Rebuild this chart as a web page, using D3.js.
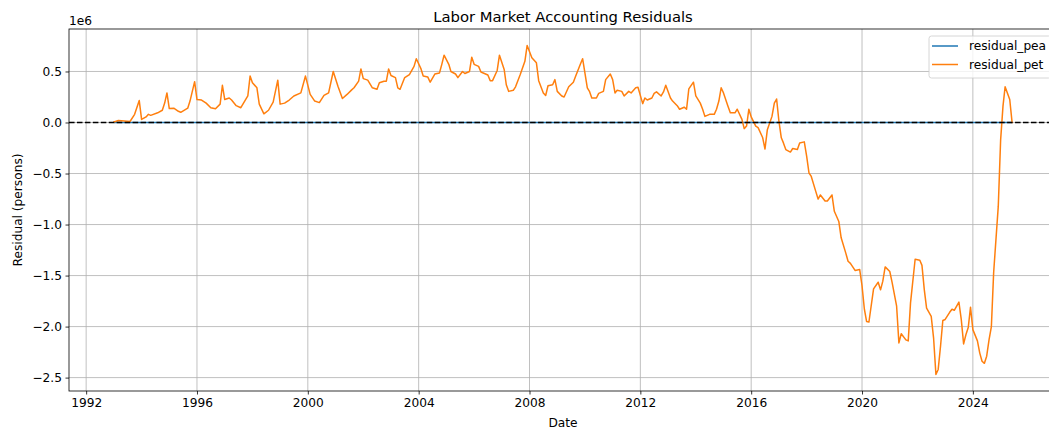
<!DOCTYPE html>
<html>
<head>
<meta charset="utf-8">
<script src="https://cdn.jsdelivr.net/npm/d3@7"></script>
<style>
  html, body { margin: 0; padding: 0; background: #fff; }
  svg { display: block; font-family: "DejaVu Sans", sans-serif; }
</style>
</head>
<body>
<svg id="chart" width="1049" height="430"></svg>
<script>
// ---- data (values in units of 1e6 persons) ----
const petDates = [
"1993-01","1993-03","1993-08","1993-10","1993-12","1994-01","1994-03","1994-04","1994-05","1994-08",
"1994-10","1994-11","1994-12","1995-01","1995-03","1995-05","1995-06","1995-09","1995-10","1995-12",
"1996-01","1996-03","1996-05","1996-07","1996-09","1996-11","1996-12","1997-01","1997-03","1997-04",
"1997-06","1997-08","1997-11","1997-12","1998-01","1998-03","1998-04","1998-06","1998-08","1998-10",
"1998-12","1999-01","1999-03","1999-05","1999-07","1999-10","1999-12","2000-02","2000-04","2000-06",
"2000-08","2000-10","2000-12","2001-02","2001-04","2001-06","2001-08","2001-09","2001-11","2001-12",
"2002-01","2002-03","2002-05","2002-07","2002-08","2002-10","2002-11","2002-12","2003-01","2003-03",
"2003-04","2003-05","2003-07","2003-09","2003-11","2003-12","2004-02","2004-03","2004-05","2004-06",
"2004-08","2004-10","2004-11","2004-12","2005-02","2005-03","2005-05","2005-06","2005-08","2005-09",
"2005-11","2005-12","2006-01","2006-03","2006-04","2006-07","2006-08","2006-09","2006-11","2006-12",
"2007-02","2007-03","2007-04","2007-06","2007-07","2007-09","2007-11","2007-12","2008-02","2008-04",
"2008-05","2008-07","2008-08","2008-09","2008-11","2008-12","2009-01","2009-03","2009-04","2009-06",
"2009-08","2009-09","2009-11","2009-12","2010-02","2010-03","2010-04","2010-06","2010-07","2010-09",
"2010-10","2010-12","2011-01","2011-02","2011-03","2011-05","2011-06","2011-08","2011-09","2011-11",
"2011-12","2012-02","2012-03","2012-04","2012-06","2012-07","2012-08","2012-10","2012-11","2012-12",
"2013-02","2013-03","2013-05","2013-06","2013-08","2013-09","2013-10","2013-12","2014-01","2014-03",
"2014-04","2014-05","2014-07","2014-09","2014-10","2014-11","2014-12","2015-01","2015-03","2015-04",
"2015-06","2015-07","2015-09","2015-10","2015-11","2015-12","2016-01","2016-03","2016-04","2016-06",
"2016-07","2016-08","2016-10","2016-11","2016-12","2017-01","2017-02","2017-03","2017-04","2017-06",
"2017-07","2017-09","2017-10","2017-12","2018-01","2018-02","2018-03","2018-05","2018-06","2018-07",
"2018-09","2018-10","2018-12","2019-01","2019-03","2019-04","2019-06","2019-07","2019-08","2019-10",
"2019-12","2020-01","2020-02","2020-03","2020-04","2020-06","2020-08","2020-09","2020-10","2020-11",
"2021-01","2021-02","2021-04","2021-05","2021-06","2021-08","2021-09","2021-10","2021-12","2022-02",
"2022-03","2022-04","2022-05","2022-07","2022-08","2022-09","2022-10","2022-11","2022-12","2023-01",
"2023-03","2023-04","2023-05","2023-07","2023-08","2023-09","2023-10","2023-11","2023-12","2024-01",
"2024-03","2024-04","2024-05","2024-06","2024-07","2024-08","2024-09","2024-10","2024-12","2025-01",
"2025-02","2025-03","2025-05","2025-06"
];
const petValues = [
0.005,0.02,0.01,0.08,0.215,0.03,0.055,0.08,0.07,0.095,
0.12,0.19,0.29,0.137,0.14,0.11,0.10,0.14,0.21,0.40,
0.225,0.22,0.19,0.145,0.135,0.18,0.365,0.225,0.24,0.22,
0.165,0.145,0.26,0.455,0.39,0.34,0.18,0.085,0.12,0.20,
0.415,0.18,0.19,0.22,0.26,0.29,0.455,0.275,0.21,0.195,
0.265,0.29,0.50,0.355,0.235,0.275,0.32,0.34,0.405,0.525,
0.43,0.415,0.34,0.325,0.39,0.405,0.405,0.525,0.46,0.44,
0.34,0.325,0.44,0.47,0.55,0.625,0.525,0.455,0.445,0.395,
0.475,0.485,0.57,0.66,0.57,0.50,0.475,0.44,0.50,0.48,
0.50,0.64,0.57,0.55,0.495,0.465,0.41,0.41,0.51,0.66,
0.52,0.37,0.305,0.315,0.35,0.47,0.60,0.755,0.635,0.585,
0.41,0.29,0.265,0.36,0.37,0.42,0.305,0.26,0.25,0.35,
0.395,0.455,0.57,0.625,0.34,0.305,0.24,0.24,0.285,0.305,
0.42,0.475,0.42,0.29,0.315,0.305,0.26,0.305,0.29,0.34,
0.345,0.185,0.24,0.22,0.24,0.285,0.30,0.26,0.30,0.365,
0.24,0.21,0.165,0.13,0.15,0.13,0.33,0.395,0.26,0.19,
0.13,0.06,0.08,0.08,0.13,0.21,0.34,0.29,0.16,0.095,
0.095,0.13,0.03,-0.06,-0.035,0.13,0.055,-0.035,-0.05,-0.15,
-0.26,-0.07,0.06,0.19,0.23,0.01,-0.15,-0.2,-0.265,-0.29,
-0.255,-0.265,-0.2,-0.19,-0.33,-0.495,-0.525,-0.675,-0.75,-0.71,
-0.77,-0.77,-0.71,-0.87,-0.97,-1.13,-1.28,-1.36,-1.38,-1.45,
-1.44,-1.6,-1.83,-1.95,-1.955,-1.63,-1.565,-1.64,-1.555,-1.415,
-1.46,-1.57,-1.8,-2.16,-2.07,-2.13,-2.14,-1.77,-1.34,-1.35,
-1.40,-1.64,-1.82,-1.9,-2.11,-2.47,-2.42,-2.19,-1.94,-1.93,
-1.86,-1.83,-1.84,-1.76,-1.93,-2.17,-2.08,-2.01,-1.81,-2.03,
-2.14,-2.26,-2.34,-2.36,-2.29,-2.13,-2.0,-1.47,-0.82,-0.17,
0.16,0.35,0.225,0.0
];
const peaDates = ["1993-01","2025-06"];
const peaValues = [0, 0];
const seriesNames = ["residual_pea", "residual_pet"];
const xTickYears = [1992,1996,2000,2004,2008,2012,2016,2020,2024];
const yTickValues = [0.5,0.0,-0.5,-1.0,-1.5,-2.0,-2.5];
const titleText = "Labor Market Accounting Residuals";
const xLabelText = "Date";
const yLabelText = "Residual (persons)";
const offsetText = "1e6";

// ---- layout ----
const W = 1049, H = 430;
const plot = { left: 69, top: 29, right: 1057, bottom: 391 };
const colors = ["#1f77b4", "#ff7f0e"];
const FS = "12.2px", FS_TITLE = "14.8px";
const parse = d3.timeParse("%Y-%m");

const pet = petDates.map((d, i) => ({ date: parse(d), value: petValues[i] }));
const pea = peaDates.map((d, i) => ({ date: parse(d), value: peaValues[i] }));

// matplotlib-like 5% margins
const xExt = d3.extent(pet, d => d.date.getTime());
const xm = (xExt[1] - xExt[0]) * 0.05;
const yExt = d3.extent(pet, d => d.value);
const ym = (yExt[1] - yExt[0]) * 0.05;

const x = d3.scaleTime()
  .domain([new Date(xExt[0] - xm), new Date(xExt[1] + xm)])
  .range([plot.left, plot.right]);
const y = d3.scaleLinear()
  .domain([yExt[0] - ym, yExt[1] + ym])
  .range([plot.bottom, plot.top]);

const svg = d3.select("#chart");
svg.append("rect").attr("width", W).attr("height", H).attr("fill", "#fff");

const defs = svg.append("defs");
defs.append("clipPath").attr("id", "clip").append("rect")
  .attr("x", plot.left).attr("y", plot.top)
  .attr("width", plot.right - plot.left).attr("height", plot.bottom - plot.top);

const xTicks = xTickYears.map(yr => new Date(yr, 0, 1));

// grid
const grid = svg.append("g");
grid.selectAll("line.vx").data(xTicks).join("line")
  .attr("x1", d => x(d)).attr("x2", d => x(d))
  .attr("y1", plot.top).attr("y2", plot.bottom)
  .attr("stroke", "#b0b0b0").attr("stroke-width", 0.8);
grid.selectAll("line.hy").data(yTickValues).join("line")
  .attr("x1", plot.left).attr("x2", plot.right)
  .attr("y1", d => y(d)).attr("y2", d => y(d))
  .attr("stroke", "#b0b0b0").attr("stroke-width", 0.8);

const line = d3.line().x(d => x(d.date)).y(d => y(d.value));
const lines = svg.append("g").attr("clip-path", "url(#clip)");
lines.append("path").datum(pea).attr("d", line)
  .attr("fill", "none").attr("stroke", colors[0]).attr("stroke-width", 1.5);
lines.append("path").datum(pet).attr("d", line)
  .attr("fill", "none").attr("stroke", colors[1]).attr("stroke-width", 1.5)
  .attr("stroke-linejoin", "round").attr("stroke-linecap", "square");

// zero dashed line
lines.append("line")
  .attr("x1", plot.left).attr("x2", plot.right)
  .attr("y1", y(0)).attr("y2", y(0))
  .attr("stroke", "#000").attr("stroke-width", 1.5)
  .attr("stroke-dasharray", "5.55,2.4");

// axes
const fmtY = v => v.toFixed(1).replace("-", "\u2212");
const xAxis = d3.axisBottom(x).tickValues(xTicks).tickFormat(d3.timeFormat("%Y"))
  .tickSize(3.5).tickPadding(3.5);
const yAxis = d3.axisLeft(y).tickValues(yTickValues).tickFormat(fmtY)
  .tickSize(3.5).tickPadding(3.5);

const gx = svg.append("g").attr("transform", `translate(0,${plot.bottom})`).call(xAxis);
const gy = svg.append("g").attr("transform", `translate(${plot.left},0)`).call(yAxis);
[gx, gy].forEach(g => {
  g.select(".domain").remove();
  g.selectAll(".tick line").attr("stroke", "#000").attr("stroke-width", 0.8);
  g.selectAll(".tick text").attr("fill", "#000")
    .style("font-family", "DejaVu Sans").style("font-size", FS);
});

// spines
const sp = svg.append("g").attr("stroke", "#000").attr("stroke-width", 0.8).attr("fill", "none");
sp.append("rect").attr("x", plot.left).attr("y", plot.top)
  .attr("width", plot.right - plot.left).attr("height", plot.bottom - plot.top);

// texts
const cx = (plot.left + plot.right) / 2;
svg.append("text").attr("x", cx).attr("y", 22).attr("text-anchor", "middle")
  .style("font-size", FS_TITLE).text(titleText);
svg.append("text").attr("x", cx).attr("y", 427).attr("text-anchor", "middle")
  .style("font-size", FS).text(xLabelText);
svg.append("text").attr("transform", `translate(22,${(plot.top + plot.bottom) / 2}) rotate(-90)`)
  .attr("text-anchor", "middle").style("font-size", FS).text(yLabelText);
svg.append("text").attr("x", plot.left).attr("y", 25)
  .style("font-size", FS).text(offsetText);

// legend
const lg = svg.append("g");
lg.append("rect").attr("x", 929).attr("y", 36).attr("width", 122).attr("height", 42)
  .attr("rx", 2.5).attr("fill", "#fff").attr("fill-opacity", 0.8)
  .attr("stroke", "#cccccc").attr("stroke-width", 0.8);
seriesNames.forEach((name, i) => {
  const yy = 46 + i * 18.5;
  lg.append("line").attr("x1", 932).attr("x2", 958).attr("y1", yy).attr("y2", yy)
    .attr("stroke", colors[i]).attr("stroke-width", 1.5);
  lg.append("text").attr("x", 969).attr("y", yy + 4.4)
    .style("font-size", FS).text(name);
});
</script>
</body>
</html>
